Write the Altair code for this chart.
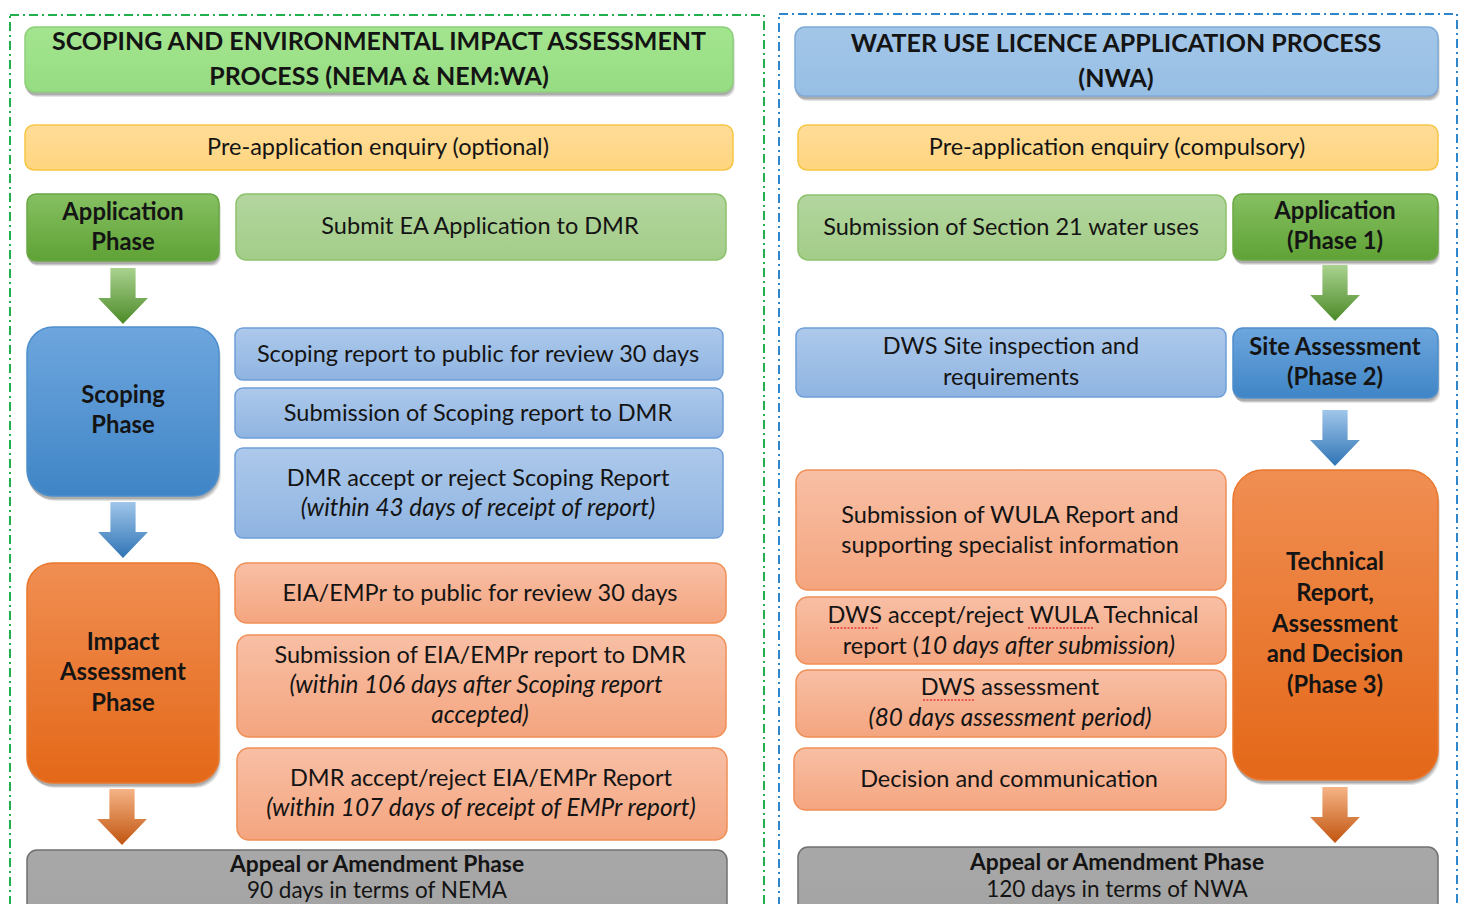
import altair as alt
import pandas as pd

# ---------------- data ----------------
# process boxes (reference pixel frame)
box_x1 = [25, 25, 27, 236, 27, 235, 235, 235, 27, 235, 237, 237, 27,
          795, 798, 798, 1233, 796, 1233, 796, 796, 796, 794, 1233, 798]
box_x2 = [733, 733, 219, 726, 219, 723, 723, 723, 219, 726, 726, 727, 727,
          1438, 1438, 1226, 1438, 1226, 1438, 1226, 1226, 1226, 1226, 1438, 1438]
box_y1 = [27, 125, 194, 194, 327, 328, 388, 448, 563, 563, 635, 748, 850,
          27, 125, 195, 194, 328, 328, 470, 597, 670, 748, 470, 847]
box_y2 = [92, 170, 261, 260, 496, 380, 438, 538, 783, 623, 737, 840, 940,
          96, 170, 260, 260, 397, 398, 590, 664, 737, 810, 780, 940]
box_style = ["title_green", "yellow", "phase_green", "step_green", "phase_blue_big",
             "step_blue", "step_blue", "step_blue", "phase_orange_big", "step_orange",
             "step_orange", "step_orange", "gray",
             "title_blue", "yellow", "step_green", "phase_green", "step_blue",
             "phase_blue", "step_orange", "step_orange", "step_orange", "step_orange",
             "phase_orange_tall", "gray"]

# dashed panel frames
frame_x1 = [10, 779]
frame_x2 = [764, 1457]
frame_y1 = [15, 14]
frame_y2 = [960, 960]
frame_col = ["#22b04f", "#2f86cc"]

# arrows
arrow_x = [123, 123, 122, 1335, 1335, 1335]
arrow_y = [296, 530, 817, 293, 438, 815]
arrow_kind = ["green", "blue", "orange", "green", "blue", "orange"]

# texts
text_x = [379, 379, 378, 123, 123, 480, 123, 123, 478, 478, 478, 478,
          123, 123, 123, 480, 480, 476, 480, 481, 481, 377, 377,
          1116, 1116, 1117, 1011, 1335, 1335, 1011, 1011, 1335, 1335,
          1010, 1010, 1013, 1010, 1010, 1009,
          1335, 1335, 1335, 1335, 1335, 1117, 1117]
text_y = [42, 77, 148, 213, 243, 227, 396, 426, 355, 414, 479, 509,
          643, 673, 704, 594, 656, 686, 716, 779, 809, 865, 891,
          44, 79, 148, 228, 212, 242, 347, 378, 348, 378,
          516, 546, 616, 688, 719, 780,
          563, 594, 625, 655, 686, 863, 890]
text_label = ["SCOPING AND ENVIRONMENTAL IMPACT ASSESSMENT", "PROCESS (NEMA & NEM:WA)",
              "Pre-application enquiry (optional)", "Application", "Phase",
              "Submit EA Application to DMR", "Scoping", "Phase",
              "Scoping report to public for review 30 days", "Submission of Scoping report to DMR",
              "DMR accept or reject Scoping Report", "(within 43 days of receipt of report)",
              "Impact", "Assessment", "Phase",
              "EIA/EMPr to public for review 30 days", "Submission of EIA/EMPr report to DMR",
              "(within 106 days after Scoping report", "accepted)",
              "DMR accept/reject EIA/EMPr Report", "(within 107 days of receipt of EMPr report)",
              "Appeal or Amendment Phase", "90 days in terms of NEMA",
              "WATER USE LICENCE APPLICATION PROCESS", "(NWA)",
              "Pre-application enquiry (compulsory)", "Submission of Section 21 water uses",
              "Application", "(Phase 1)", "DWS Site inspection and", "requirements",
              "Site Assessment", "(Phase 2)",
              "Submission of WULA Report and", "supporting specialist information",
              "DWS accept/reject WULA Technical", "DWS assessment",
              "(80 days assessment period)", "Decision and communication",
              "Technical", "Report,", "Assessment", "and Decision", "(Phase 3)",
              "Appeal or Amendment Phase", "120 days in terms of NWA"]
text_kind = ["title", "title", "body", "bold", "bold", "body", "bold", "bold",
             "body", "body", "body", "italic", "bold", "bold", "bold",
             "body", "body", "italic", "italic", "body", "italic", "bold_s", "body_s",
             "title", "title", "body", "body", "bold", "bold", "body", "body", "bold", "bold",
             "body", "body", "body", "body", "italic", "body",
             "bold", "bold", "bold", "bold", "bold", "bold_s", "body_s"]

# mixed-style line (upright + italic)
mixed_x = [919, 919]
mixed_y = [647, 647]
mixed_label = ["report (", "10 days after submission)"]
mixed_kind = ["body_r", "italic_l"]

# spell-check squiggles under DWS / WULA
sq_x1 = [830, 1028, 923]
sq_x2 = [878, 1093, 974]
sq_y = [628, 628, 700]

# ---------------- helpers ----------------
XS = alt.Scale(domain=[8, 1458])
YS = alt.Scale(domain=[8, 904], reverse=True)
FONT = "Lato"


def grad(c0, c1):
    return alt.Gradient(gradient="linear", x1=0, x2=0, y1=0, y2=1,
                        stops=[alt.GradientStop(color=c0, offset=0),
                               alt.GradientStop(color=c1, offset=1)])


boxes = pd.DataFrame({"x1": box_x1, "x2": box_x2, "y1": box_y1, "y2": box_y2,
                      "style": box_style})
frames = pd.DataFrame({"x1": frame_x1, "x2": frame_x2, "y1": frame_y1, "y2": frame_y2,
                       "col": frame_col})
arrows = pd.DataFrame({"x": arrow_x, "y": arrow_y, "kind": arrow_kind})
texts = pd.DataFrame({"x": text_x, "y": text_y, "label": text_label, "kind": text_kind})
mixed = pd.DataFrame({"x": mixed_x, "y": mixed_y, "label": mixed_label, "kind": mixed_kind})
squig = pd.DataFrame({"x1": sq_x1, "x2": sq_x2, "y": sq_y})

STYLES = {
    "title_green": dict(fill=grad("#a3e58f", "#96dc82"), stroke="#8fcf7c", r=10, shadow=True),
    "title_blue": dict(fill=grad("#a2c6e8", "#97bfe4"), stroke="#7eaad9", r=10, shadow=True),
    "yellow": dict(fill=grad("#ffdc98", "#ffd57e"), stroke="#f6c646", r=9, shadow=False),
    "phase_green": dict(fill=grad("#86c062", "#5fa235"), stroke="#6aa843", r=9, shadow=True),
    "step_green": dict(fill=grad("#b3d69f", "#a3cc88"), stroke="#8cc26c", r=10, shadow=False),
    "phase_blue_big": dict(fill=grad("#6ea6de", "#3f85c6"), stroke="#4e8fcc", r=26, shadow=True),
    "phase_blue": dict(fill=grad("#6ea6de", "#3f85c6"), stroke="#4e8fcc", r=10, shadow=True),
    "step_blue": dict(fill=grad("#adc9eb", "#8fb4e1"), stroke="#6e9ed8", r=8, shadow=False),
    "phase_orange_big": dict(fill=grad("#f08e52", "#e46818"), stroke="#e9782e", r=26, shadow=True),
    "phase_orange_tall": dict(fill=grad("#f08e52", "#e46818"), stroke="#e9782e", r=30, shadow=True),
    "step_orange": dict(fill=grad("#f8bfa5", "#f4a57f"), stroke="#f08f55", r=12, shadow=False),
    "gray": dict(fill=grad("#a8a8a8", "#a2a2a2"), stroke="#707070", r=10, shadow=False),
}

ARROWS = {
    "green": grad("#a9d28f", "#4c8a28"),
    "blue": grad("#a0c6ea", "#2f74b5"),
    "orange": grad("#f5b386", "#c1550f"),
}

ARROW_PATH = "M-0.45,-1 L0.45,-1 L0.45,0.07 L0.89,0.07 L0,1 L-0.89,0.07 L-0.45,0.07 Z"

TEXT = {
    "title": dict(fontSize=25, fontWeight="bold", fontStyle="normal", align="center"),
    "bold": dict(fontSize=23.8, fontWeight="bold", fontStyle="normal", align="center"),
    "body": dict(fontSize=23.5, fontWeight="normal", fontStyle="normal", align="center"),
    "bold_s": dict(fontSize=22.8, fontWeight="bold", fontStyle="normal", align="center"),
    "body_s": dict(fontSize=22.5, fontWeight="normal", fontStyle="normal", align="center"),
    "italic": dict(fontSize=24.3, fontWeight="normal", fontStyle="italic", align="center"),
    "body_r": dict(fontSize=23.5, fontWeight="normal", fontStyle="normal", align="right"),
    "italic_l": dict(fontSize=24.3, fontWeight="normal", fontStyle="italic", align="left"),
}

enc_rect = dict(
    x=alt.X("x1:Q", scale=XS, axis=None), x2="x2:Q",
    y=alt.Y("y1:Q", scale=YS, axis=None), y2="y2:Q",
)

layers = []

# frames
for col in frame_col:
    layers.append(
        alt.Chart(frames[frames["col"] == col]).mark_rect(
            fill="white", fillOpacity=0, stroke=col, strokeWidth=2,
            strokeDash=[9, 4, 2, 4]
        ).encode(**enc_rect)
    )

# shadows
shadow_styles = [s for s, d in STYLES.items() if d["shadow"]]
for s in shadow_styles:
    d = STYLES[s]
    sub = boxes[boxes["style"] == s]
    for off, op in [((4, 5), 0.10), ((3, 4), 0.12), ((2, 3), 0.14)]:
        layers.append(
            alt.Chart(sub).mark_rect(
                color="#000000", opacity=op, cornerRadius=d["r"],
                xOffset=off[0] - 2, x2Offset=off[0] - 2, yOffset=off[1], y2Offset=off[1]
            ).encode(**enc_rect)
        )

# boxes
for s, d in STYLES.items():
    sub = boxes[boxes["style"] == s]
    layers.append(
        alt.Chart(sub).mark_rect(
            fill=d["fill"], stroke=d["stroke"], strokeWidth=1.5, cornerRadius=d["r"]
        ).encode(**enc_rect)
    )

# arrows
for k, g in ARROWS.items():
    layers.append(
        alt.Chart(arrows[arrows["kind"] == k]).mark_point(
            shape=ARROW_PATH, size=3136, filled=True, fill=g, strokeWidth=0, opacity=1
        ).encode(x=alt.X("x:Q", scale=XS, axis=None), y=alt.Y("y:Q", scale=YS, axis=None))
    )

# texts
for df in (texts, mixed):
    for k in df["kind"].unique():
        t = TEXT[k]
        layers.append(
            alt.Chart(df[df["kind"] == k]).mark_text(
                font=FONT, fontSize=t["fontSize"], fontWeight=t["fontWeight"],
                fontStyle=t["fontStyle"], align=t["align"], baseline="middle",
                color="#141414"
            ).encode(x=alt.X("x:Q", scale=XS, axis=None), y=alt.Y("y:Q", scale=YS, axis=None),
                     text="label:N")
        )

# squiggles
layers.append(
    alt.Chart(squig).mark_rule(color="#e23b3b", strokeWidth=1.3, strokeDash=[2, 1.5]).encode(
        x=alt.X("x1:Q", scale=XS, axis=None), x2="x2:Q",
        y=alt.Y("y:Q", scale=YS, axis=None)
    )
)

chart = alt.layer(*layers).properties(
    width=1450, height=896, padding=0, autosize="none", background="white"
).configure_view(stroke=None)

chart.save("out.html", embed_options={"renderer": "svg", "actions": False})
